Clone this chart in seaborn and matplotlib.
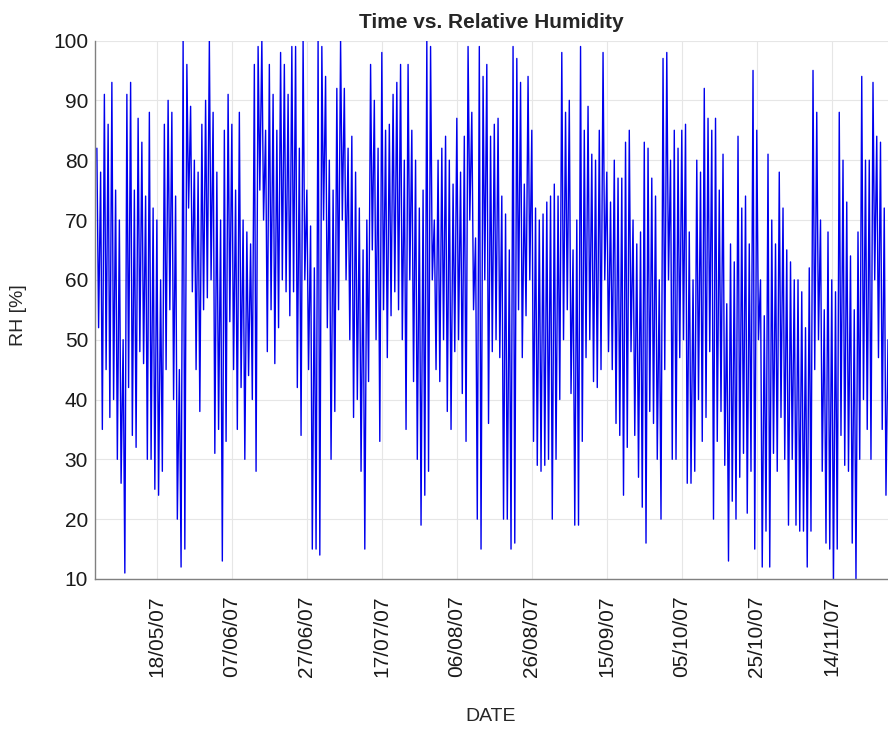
import numpy as np
import pandas as pd
import seaborn as sns
import matplotlib
matplotlib.use("Agg")
import matplotlib.pyplot as plt
import matplotlib.dates as mdates

# daily extremes of relative humidity [%], one value per day from 02/05/07
rh_max = [82, 78, 91, 86, 93, 75, 70, 50, 91, 93,
          75, 87, 83, 74, 88, 72, 70, 60, 86, 90,
          88, 74, 45, 100, 96, 89, 80, 78, 86, 90,
          100, 88, 78, 70, 85, 91, 86, 75, 88, 70,
          68, 66, 96, 99, 100, 85, 96, 91, 85, 98,
          96, 91, 99, 99, 82, 100, 75, 69, 62, 100,
          99, 94, 80, 75, 92, 100, 92, 82, 84, 78,
          72, 65, 70, 96, 90, 82, 98, 85, 86, 91,
          93, 96, 80, 96, 85, 80, 72, 75, 100, 99,
          70, 80, 82, 84, 80, 76, 87, 78, 84, 99,
          88, 67, 99, 94, 96, 84, 86, 87, 74, 71,
          65, 99, 97, 93, 76, 94, 85, 72, 70, 71,
          73, 74, 76, 74, 98, 88, 90, 65, 70, 99,
          85, 89, 81, 80, 85, 98, 78, 73, 80, 77,
          77, 83, 85, 70, 66, 68, 83, 82, 77, 74,
          60, 97, 98, 80, 85, 82, 85, 86, 68, 60,
          80, 78, 92, 87, 85, 87, 75, 81, 56, 66,
          63, 84, 72, 74, 66, 95, 85, 60, 54, 81,
          70, 66, 78, 72, 65, 63, 60, 60, 58, 52,
          62, 95, 88, 70, 55, 68, 60, 58, 88, 80,
          73, 64, 55, 68, 94, 80, 80, 93, 84, 83,
          72, 50]

rh_min = [52, 35, 45, 37, 40, 30, 26, 11, 42, 34,
          32, 48, 46, 30, 30, 25, 24, 28, 45, 55,
          40, 20, 12, 15, 72, 58, 45, 38, 55, 57,
          60, 31, 35, 13, 33, 53, 45, 35, 42, 30,
          44, 40, 28, 75, 70, 48, 55, 46, 52, 60,
          58, 54, 58, 42, 34, 60, 45, 15, 15, 14,
          70, 52, 30, 38, 55, 70, 60, 50, 37, 40,
          28, 15, 43, 65, 50, 33, 55, 47, 54, 58,
          55, 50, 35, 60, 43, 30, 19, 24, 28, 60,
          45, 43, 50, 38, 35, 48, 50, 41, 33, 70,
          55, 20, 15, 60, 36, 48, 50, 47, 20, 20,
          15, 16, 55, 47, 54, 60, 33, 29, 28, 29,
          30, 20, 30, 40, 50, 55, 41, 19, 19, 33,
          47, 50, 43, 42, 45, 60, 48, 45, 36, 34,
          24, 32, 48, 34, 27, 22, 16, 38, 36, 30,
          20, 45, 60, 30, 30, 47, 50, 26, 26, 28,
          40, 33, 37, 48, 20, 33, 38, 29, 13, 23,
          20, 27, 31, 21, 28, 15, 50, 12, 18, 12,
          31, 28, 37, 30, 19, 30, 19, 18, 18, 12,
          18, 45, 50, 28, 16, 15, 10, 15, 34, 29,
          28, 16, 10, 30, 40, 35, 30, 60, 47, 35,
          24, 24]

days = pd.date_range("2007-05-02", periods=len(rh_max), freq="D")
tick_dates = pd.date_range("2007-05-18", periods=10, freq="20D")

# night maximum, afternoon minimum
df = pd.DataFrame({
    "DATE": np.concatenate([days + pd.Timedelta(hours=0), days + pd.Timedelta(hours=11)]),
    "RH": np.concatenate([rh_max, rh_min]),
}).sort_values("DATE")

sns.set_style("white")
plt.rcParams["font.family"] = ["Liberation Sans", "DejaVu Sans"]

fig = plt.figure(figsize=(8.88, 7.33), dpi=100)
ax = fig.add_axes([95 / 888, 1 - 579 / 733, 793 / 888, 538.5 / 733])

sns.lineplot(data=df, x="DATE", y="RH", estimator=None, sort=False,
             color="#0000ee", linewidth=1.0, ax=ax)

ax.set_xlim(pd.Timestamp("2007-05-01 12:00"), pd.Timestamp("2007-11-29 00:00"))
ax.set_ylim(10, 100)
ax.set_yticks(range(10, 101, 10))
ax.set_xticks(tick_dates)
ax.xaxis.set_major_formatter(mdates.DateFormatter("%d/%m/%y"))

ax.grid(True, color="#e6e6e6", linewidth=0.8)
ax.set_axisbelow(True)
for s in ["top", "right"]:
    ax.spines[s].set_visible(False)
for s in ["left", "bottom"]:
    ax.spines[s].set_color("#808080")
    ax.spines[s].set_linewidth(1.0)

ax.tick_params(axis="both", direction="in", length=5, width=0.8, color="#808080",
               labelsize=15, labelcolor="#1a1a1a")
ax.tick_params(axis="x", pad=12, labelrotation=90)
ax.tick_params(axis="y", pad=5)

ax.set_title("Time vs. Relative Humidity", fontsize=15, fontweight="bold", pad=9)
ax.set_xlabel("DATE", fontsize=14)
ax.set_ylabel("RH [%]", fontsize=14)
ax.xaxis.set_label_coords(0.4994, -0.24)
ax.yaxis.set_label_coords(-0.086, 0.49)

fig.savefig("out.png", dpi=100)
